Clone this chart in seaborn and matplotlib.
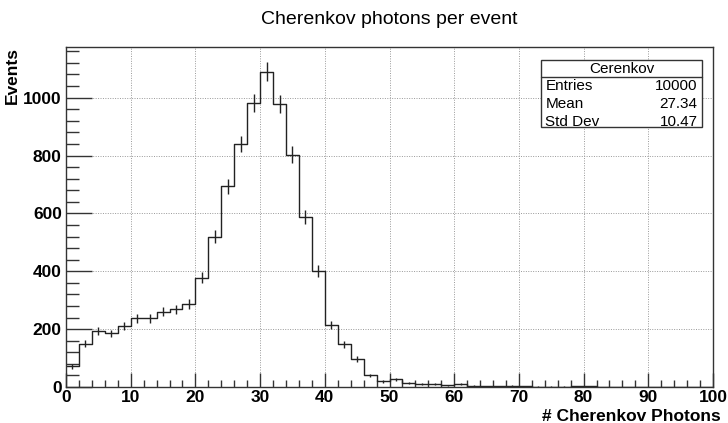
import numpy as np
import pandas as pd
import seaborn as sns
import matplotlib.pyplot as plt
from matplotlib.ticker import MultipleLocator

sns.set_style("ticks", {'axes.grid': True})
plt.rcParams['font.family'] = ['Liberation Sans', 'DejaVu Sans']
plt.rcParams['text.color'] = 'black'
plt.rcParams['xtick.color'] = '#333333'
plt.rcParams['ytick.color'] = '#333333'
plt.rcParams['xtick.labelcolor'] = 'black'
plt.rcParams['ytick.labelcolor'] = 'black'

# содержимое бинов (ширина бина 2 фотона, 0..100)
bin_edges = list(range(0, 102, 2))
counts = [72, 150, 193, 185, 210, 237, 237, 260, 268, 287,
          378, 520, 693, 840, 982, 1090, 979, 803, 589, 401,
          215, 147, 97, 40, 20, 27, 15, 12, 12, 6,
          12, 4, 3, 3, 4, 2, 1, 1, 1, 2,
          3, 0, 0, 0, 0, 0, 0, 0, 0, 0]
stats_labels = ['Entries', 'Mean', 'Std Dev']
stats_values = ['10000', '27.34', '10.47']

centers = [(a + b) / 2 for a, b in zip(bin_edges[:-1], bin_edges[1:])]
df = pd.DataFrame({'photons': centers, 'events': counts})


def main():
    fig = plt.figure(figsize=(7.28, 4.23), dpi=100)
    ax = fig.add_axes([0.0907, 0.0851, 0.8887, 0.8038])

    sns.histplot(data=df, x='photons', weights='events', bins=bin_edges,
                 element='step', fill=False, color='#222222', linewidth=1.0, ax=ax)
    # ошибки sqrt(N) для ненулевых бинов
    nz = df[df['events'] > 0]
    ax.errorbar(nz['photons'], nz['events'], yerr=np.sqrt(nz['events']),
                fmt='none', ecolor='#222222', elinewidth=1.0)

    ax.set_xlim(0, 100)
    ax.set_ylim(0, 1175)
    ax.xaxis.set_major_locator(MultipleLocator(10))
    ax.xaxis.set_minor_locator(MultipleLocator(2))
    ax.yaxis.set_major_locator(MultipleLocator(200))
    ax.yaxis.set_minor_locator(MultipleLocator(40))
    ax.grid(True, which='major', color='#999999', linestyle=(0, (1, 1.5)), linewidth=0.7)
    ax.tick_params(axis='x', which='major', direction='in', length=10, width=1, pad=2)
    ax.tick_params(axis='x', which='minor', direction='in', length=5, width=1)
    ax.tick_params(axis='y', which='major', direction='in', length=19, width=1, pad=3)
    ax.tick_params(axis='y', which='minor', direction='in', length=9, width=1)
    for lab in ax.get_xticklabels() + ax.get_yticklabels():
        lab.set_fontweight('bold')
        lab.set_fontsize(12.5)
    for sp in ax.spines.values():
        sp.set_color('#333333')
        sp.set_linewidth(1.0)

    ax.set_xlabel('')
    ax.set_ylabel('')
    fig.text(721 / 728, 1 - 416 / 423, '# Cherenkov Photons', ha='right', va='center',
             fontsize=12.5, fontweight='bold')
    fig.text(12.5 / 728, 1 - 47 / 423, 'Events', ha='center', va='top', rotation=90,
             fontsize=12.5, fontweight='bold')

    fig.text(0.535, 0.955, 'Cherenkov photons per event', ha='center', va='center', fontsize=14)

    # стат-бокс как в ROOT
    x0, x1 = 541 / 728, 702 / 728
    y_top, y_bot = 1 - 60 / 423, 1 - 127 / 423
    box = plt.Rectangle((x0, y_bot), x1 - x0, y_top - y_bot, transform=fig.transFigure,
                        facecolor='white', edgecolor='#333333', linewidth=1.0, zorder=5)
    fig.patches.append(box)
    y_head = 1 - 77 / 423
    fig.add_artist(plt.Line2D([x0, x1], [y_head, y_head], transform=fig.transFigure,
                              color='#333333', linewidth=1.0, zorder=6))
    fig.text((x0 + x1) / 2, 1 - 68.5 / 423, 'Cerenkov', ha='center', va='center', fontsize=11, zorder=7)
    for i, (lab, val) in enumerate(zip(stats_labels, stats_values)):
        yy = 1 - (86.5 + 17.8 * i) / 423
        fig.text(x0 + 0.006, yy, lab, ha='left', va='center', fontsize=11, zorder=7)
        fig.text(x1 - 0.006, yy, val, ha='right', va='center', fontsize=11, zorder=7)

    fig.savefig('out.png', dpi=100)


if __name__ == '__main__':
    main()
